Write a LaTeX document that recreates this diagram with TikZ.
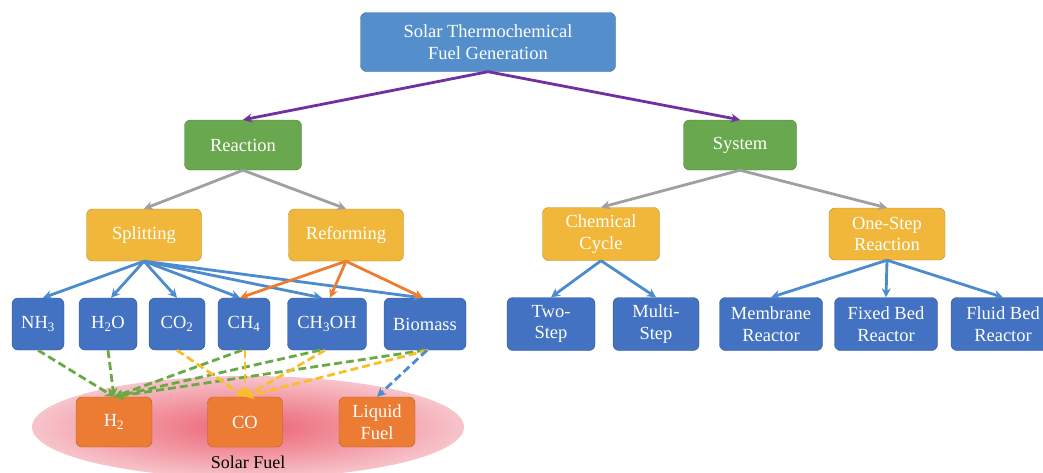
\documentclass[tikz,border=0pt]{standalone}
\usepackage{fontspec}
\setmainfont{Liberation Serif}
\usetikzlibrary{arrows.meta}
\definecolor{topblue}{RGB}{84,143,204}
\definecolor{boxgreen}{RGB}{106,168,79}
\definecolor{boxgold}{RGB}{241,183,58}
\definecolor{boxblue}{RGB}{66,114,193}
\definecolor{boxorange}{RGB}{236,124,52}
\definecolor{arrpurple}{RGB}{112,48,160}
\definecolor{arrgray}{RGB}{160,160,160}
\definecolor{arrblue}{RGB}{76,140,206}
\definecolor{arrorange}{RGB}{237,125,49}
\definecolor{dashgreen}{RGB}{106,170,70}
\definecolor{dashgold}{RGB}{250,190,40}
\definecolor{fuelred}{RGB}{236,98,114}
\definecolor{fuelpink}{RGB}{247,196,203}
\tikzset{
  box/.style={rectangle,rounded corners=6pt,draw=#1!75!black,fill=#1,text=white,align=center,inner sep=0pt,font=\fontsize{18.5}{21.5}\selectfont},
  link/.style={draw=#1,line width=2.8pt,-{Stealth[length=9pt,width=9pt]}},
  dlink/.style={link=#1,dash pattern=on 8pt off 4pt}
}
\begin{document}
\begin{tikzpicture}[x=1pt,y=-1pt]
\useasboundingbox (0,0) rectangle (1043,472);
\shade[inner color=fuelred,outer color=fuelpink] (248,427) ellipse [x radius=216,y radius=51];
\node[font=\fontsize{18}{20}\selectfont] (solarfuel) at (248,462) {Solar Fuel};
\node[box=topblue,minimum width=255pt,minimum height=59pt] (top) at (488,42) {Solar Thermochemical\\Fuel Generation};
\node[box=boxgreen,minimum width=117pt,minimum height=50pt] (reaction) at (243,145) {Reaction};
\node[box=boxgreen,minimum width=113pt,minimum height=50pt] (system) at (740,145) {System};
\node[box=boxgold,minimum width=115pt,minimum height=52pt] (splitting) at (144,235) {Splitting};
\node[box=boxgold,minimum width=115pt,minimum height=52pt] (reforming) at (346,235) {Reforming};
\node[box=boxgold,minimum width=117pt,minimum height=53pt] (chemcycle) at (601,234) {Chemical\\Cycle};
\node[box=boxgold,minimum width=116pt,minimum height=52pt] (onestep) at (887,234) {One-Step\\Reaction};
\node[box=boxblue,minimum width=52pt,minimum height=52pt] (nh3) at (38,324) {NH\textsubscript{3}};
\node[box=boxblue,minimum width=58pt,minimum height=52pt] (h2o) at (108,324) {H\textsubscript{2}O};
\node[box=boxblue,minimum width=56pt,minimum height=52pt] (co2) at (177,324) {CO\textsubscript{2}};
\node[box=boxblue,minimum width=52pt,minimum height=52pt] (ch4) at (244,324) {CH\textsubscript{4}};
\node[box=boxblue,minimum width=79pt,minimum height=52pt] (ch3oh) at (327,324) {CH\textsubscript{3}OH};
\node[box=boxblue,minimum width=82pt,minimum height=52pt] (biomass) at (425,324) {Biomass};
\node[box=boxblue,minimum width=88pt,minimum height=53pt] (twostep) at (551,324) {Two-\\Step};
\node[box=boxblue,minimum width=86pt,minimum height=53pt] (multistep) at (656,324) {Multi-\\Step};
\node[box=boxblue,minimum width=103pt,minimum height=53pt] (membrane) at (771,324) {Membrane\\Reactor};
\node[box=boxblue,minimum width=103pt,minimum height=53pt] (fixedbed) at (886,324) {Fixed Bed\\Reactor};
\node[box=boxblue,minimum width=104pt,minimum height=53pt] (fluidbed) at (1003,324) {Fluid Bed\\Reactor};
\node[box=boxorange,minimum width=76pt,minimum height=50pt] (h2) at (114,422) {H\textsubscript{2}};
\node[box=boxorange,minimum width=75pt,minimum height=50pt] (co) at (245,422) {CO};
\node[box=boxorange,minimum width=76pt,minimum height=50pt] (liquid) at (377,422) {Liquid\\Fuel};
\draw[link=arrpurple] (top.south) -- (reaction.north);
\draw[link=arrpurple] (top.south) -- (system.north);
\draw[link=arrgray] (reaction.south) -- (splitting.north);
\draw[link=arrgray] (reaction.south) -- (reforming.north);
\draw[link=arrgray] (system.south) -- (chemcycle.north);
\draw[link=arrgray] (system.south) -- (onestep.north);
\draw[link=arrblue] (splitting.south) -- ([xshift=5pt]nh3.north);
\draw[link=arrblue] (splitting.south) -- ([xshift=3pt]h2o.north);
\draw[link=arrblue] (splitting.south) -- (co2.north);
\draw[link=arrblue] (splitting.south) -- ([xshift=-4pt]ch4.north);
\draw[link=arrblue] (splitting.south) -- ([xshift=-5pt]ch3oh.north);
\draw[link=arrblue] (splitting.south) -- ([xshift=-3pt]biomass.north);
\draw[link=arrorange] (reforming.south) -- ([xshift=-4pt]ch4.north);
\draw[link=arrorange] (reforming.south) -- ([xshift=3pt]ch3oh.north);
\draw[link=arrorange] (reforming.south) -- ([xshift=-2pt]biomass.north);
\draw[link=arrblue] (chemcycle.south) -- (twostep.north);
\draw[link=arrblue] (chemcycle.south) -- (multistep.north);
\draw[link=arrblue] (onestep.south) -- (membrane.north);
\draw[link=arrblue] (onestep.south) -- (fixedbed.north);
\draw[link=arrblue] (onestep.south) -- (fluidbed.north);
\draw[dlink=dashgreen] (nh3.south) -- (h2.north);
\draw[dlink=dashgreen] (h2o.south) -- (h2.north);
\draw[dlink=dashgreen] ([xshift=-2pt]ch4.south) -- (h2.north);
\draw[dlink=dashgreen] ([xshift=-7pt]ch3oh.south) -- (h2.north);
\draw[dlink=dashgreen] (biomass.south) -- (h2.north);
\draw[dlink=dashgold] (co2.south) -- (co.north);
\draw[dlink=dashgold] ([xshift=1pt]ch4.south) -- (co.north);
\draw[dlink=dashgold] ([xshift=-2pt]ch3oh.south) -- (co.north);
\draw[dlink=dashgold] ([xshift=3pt]biomass.south) -- (co.north);
\draw[dlink=arrblue] ([xshift=2pt]biomass.south) -- (liquid.north);
\end{tikzpicture}
\end{document}
